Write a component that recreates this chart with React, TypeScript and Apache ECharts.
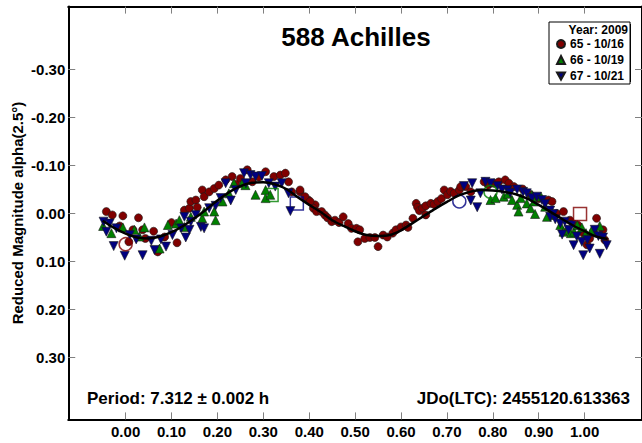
import React, { useEffect, useRef } from "react";
import * as echarts from "echarts";

const FONT = '"Liberation Sans", Arial, sans-serif';

const xTickValues = [0, 0.1, 0.2, 0.3, 0.4, 0.5, 0.6, 0.7, 0.8, 0.9, 1.0];
const yTickValues = [-0.3, -0.2, -0.1, 0, 0.1, 0.2, 0.3];
const seriesNames = ["65 - 10/16", "66 - 10/19", "67 - 10/21"];
const seriesColors = ["#800000", "#008000", "#000080"];

const chartTitle = "588 Achilles";
const yAxisTitle = "Reduced Magnitude alpha(2.5°)";
const legendTitle = "Year: 2009";
const periodText = "Period: 7.312 ± 0.002 h";
const epochText = "JDo(LTC): 2455120.613363";

// session 65 - 10/16 : [phase, reduced magnitude]
const session65 = [
  [-0.042, -0.003], [-0.029, 0.004], [-0.006, 0.006], [0.028, 0.010], [-0.013, 0.027],
  [0.016, 0.035], [0.037, 0.035], [0.061, 0.038], [0.007, 0.060], [0.043, 0.053],
  [0.070, 0.081], [0.112, 0.062], [0.085, 0.050], [0.100, 0.020], [0.128, -0.006],
  [0.139, -0.010], [0.142, -0.024], [0.153, -0.027], [0.156, -0.012], [0.167, -0.048],
  [0.171, -0.034], [0.182, -0.044], [0.193, -0.051], [0.203, -0.058], [0.218, -0.069],
  [0.232, -0.076], [0.240, -0.060], [0.250, -0.072], [0.265, -0.090], [0.276, -0.065],
  [0.290, -0.075], [0.305, -0.086], [0.323, -0.076], [0.337, -0.079], [0.348, -0.083],
  [0.355, -0.065], [0.362, -0.044], [0.380, -0.044], [0.398, -0.027], [0.413, -0.017],
  [0.380, -0.048], [0.391, -0.034], [0.402, -0.024], [0.409, -0.010], [0.416, -0.003],
  [0.427, -0.003], [0.434, 0.004], [0.440, 0.010], [0.449, 0.018], [0.456, 0.015],
  [0.465, 0.020], [0.474, 0.008], [0.485, 0.022], [0.492, 0.032], [0.503, 0.032],
  [0.510, 0.035], [0.506, 0.060], [0.521, 0.053], [0.532, 0.051], [0.543, 0.051],
  [0.550, 0.070], [0.561, 0.046], [0.570, 0.050], [0.582, 0.042], [0.589, 0.035],
  [0.600, 0.029], [0.611, 0.025], [0.615, 0.030], [0.626, 0.011], [0.633, -0.020],
  [0.636, -0.012], [0.640, -0.005], [0.647, -0.010], [0.654, -0.015], [0.654, 0.004],
  [0.665, -0.020], [0.672, -0.018], [0.680, -0.024], [0.688, -0.030], [0.694, -0.048],
  [0.701, -0.038], [0.708, -0.045], [0.716, -0.041], [0.727, -0.048], [0.730, -0.055],
  [0.741, -0.055], [0.752, -0.044], [0.781, -0.065], [0.790, -0.058], [0.802, -0.062],
  [0.813, -0.065], [0.827, -0.069], [0.835, -0.062], [0.846, -0.055], [0.865, -0.050],
  [0.882, -0.038], [0.900, -0.030], [0.921, -0.027], [0.929, -0.024], [0.939, 0.001],
  [0.954, -0.003], [0.968, 0.015], [0.985, 0.025], [0.997, 0.042], [1.005, 0.066],
  [1.011, 0.053], [1.019, 0.039], [1.026, 0.011], [1.040, 0.035], [1.044, 0.056],
];

// session 66 - 10/19
const session66 = [
  [-0.049, 0.027], [-0.031, 0.042], [-0.006, 0.030], [0.019, 0.035], [0.030, 0.049],
  [0.041, 0.030], [0.074, 0.074], [0.092, 0.025], [0.110, 0.022], [0.117, 0.015],
  [0.128, 0.029], [0.142, 0.008], [0.167, 0.011], [0.171, -0.003], [0.193, -0.003],
  [0.196, 0.015], [0.211, -0.024], [0.225, -0.041], [0.236, -0.062], [0.254, -0.062],
  [0.261, -0.058], [0.283, -0.038], [0.305, -0.048], [0.305, -0.031], [0.315, -0.038],
  [0.795, -0.027], [0.806, -0.031], [0.824, -0.034], [0.833, -0.040], [0.842, -0.027],
  [0.853, -0.017], [0.856, -0.003], [0.861, -0.031], [0.874, -0.020], [0.882, -0.010],
  [0.885, -0.038], [0.890, -0.024], [0.892, 0.002], [0.905, -0.034], [0.914, -0.013],
  [0.918, 0.008], [0.932, 0.004], [0.947, 0.025], [0.954, 0.039], [0.961, 0.035],
  [0.970, 0.042], [0.977, 0.039], [0.984, 0.025], [0.994, 0.030], [1.003, 0.042],
  [1.015, 0.037], [1.033, 0.027],
];

// session 67 - 10/21
const session67 = [
  [-0.048, 0.018], [-0.042, 0.039], [-0.035, 0.022], [-0.026, 0.069], [-0.020, 0.032],
  [-0.002, 0.089], [0.009, 0.046], [0.023, 0.055], [0.037, 0.088], [0.056, 0.058],
  [0.063, 0.077], [0.077, 0.055], [0.088, 0.070], [0.102, 0.046], [0.121, 0.032],
  [0.128, 0.008], [0.131, 0.051], [0.139, 0.035], [0.142, 0.018], [0.153, 0.004],
  [0.164, 0.029], [0.171, 0.032], [0.182, -0.010], [0.196, -0.015], [0.207, -0.031],
  [0.218, -0.062], [0.229, -0.026], [0.240, -0.048], [0.258, -0.083], [0.262, -0.062],
  [0.272, -0.079], [0.283, -0.076], [0.297, -0.077], [0.312, -0.062], [0.326, -0.055],
  [0.340, -0.062], [0.355, -0.041], [0.359, -0.004],
  [0.737, -0.056], [0.752, -0.026], [0.755, -0.062], [0.766, -0.012], [0.773, -0.041],
  [0.784, -0.065], [0.795, -0.062], [0.810, -0.056], [0.820, -0.049], [0.832, -0.048],
  [0.838, -0.042], [0.853, -0.049], [0.866, -0.044], [0.874, -0.041], [0.885, -0.031],
  [0.896, -0.034], [0.907, -0.027], [0.914, -0.019], [0.925, -0.005], [0.925, 0.008],
  [0.932, 0.002], [0.936, 0.013], [0.947, 0.022], [0.951, 0.045], [0.957, 0.018],
  [0.965, 0.035], [0.972, 0.025], [0.976, 0.067], [0.983, 0.049], [0.994, 0.060],
  [0.997, 0.088], [1.006, 0.056], [1.011, 0.074], [1.022, 0.035], [1.030, 0.048],
  [1.033, 0.085], [1.040, 0.051], [1.048, 0.067],
];

// open markers: first (circle) and last (square) point of each session
const sessionStarts = [[0.0, 0.065], [0.795, -0.044], [0.727, -0.024]];
const sessionEnds = [[0.99, 0.002], [0.318, -0.0375], [0.373, -0.02]];

// Fourier fit curve
const fitPhase = [
  -0.05, -0.025, 0.0, 0.025, 0.05, 0.075, 0.1, 0.125, 0.15, 0.175, 0.2, 0.225, 0.25,
  0.275, 0.3, 0.325, 0.35, 0.375, 0.4, 0.425, 0.45, 0.475, 0.5, 0.525, 0.55, 0.575,
  0.6, 0.625, 0.65, 0.675, 0.7, 0.725, 0.75, 0.775, 0.8, 0.825, 0.85, 0.875, 0.9,
  0.925, 0.95, 0.975, 1.0, 1.025, 1.05,
];
const fitMag = [
  0.016, 0.031, 0.043, 0.051, 0.053, 0.049, 0.040, 0.027, 0.011, -0.007, -0.026,
  -0.043, -0.056, -0.063, -0.064, -0.060, -0.050, -0.033, -0.017, -0.002, 0.015,
  0.027, 0.038, 0.046, 0.048, 0.046, 0.036, 0.021, 0.006, -0.009, -0.023, -0.036,
  -0.044, -0.048, -0.047, -0.044, -0.039, -0.030, -0.017, -0.003, 0.012, 0.026,
  0.038, 0.049, 0.054,
];

const downTriangle = "path://M0,0L10,0L5,9Z";
const symbols = ["circle", "triangle", downTriangle];
const symbolSizes = [8, 9, 9];

export default function App() {
  const ref = useRef<HTMLDivElement>(null);

  useEffect(() => {
    const chart = echarts.init(ref.current as HTMLDivElement, null, { renderer: "svg" });
    const sessions = [session65, session66, session67];

    const tickLabel = (v: number) => Number(v).toFixed(2);

    const scatterSeries = sessions.map((data, i) => ({
      name: seriesNames[i],
      type: "scatter",
      data,
      symbol: symbols[i],
      symbolSize: symbolSizes[i],
      itemStyle: { color: seriesColors[i], borderColor: "#1a1a1a", borderWidth: 0.6, opacity: 1 },
      z: 3 + i,
      silent: true,
    }));

    const startSeries = sessionStarts.map((p, i) => ({
      name: "start-" + i,
      type: "scatter",
      data: [p],
      symbol: "circle",
      symbolSize: 13,
      itemStyle: { color: "transparent", borderColor: seriesColors[i], borderWidth: 1.5 },
      z: 7,
      silent: true,
    }));
    const endSeries = sessionEnds.map((p, i) => ({
      name: "end-" + i,
      type: "scatter",
      data: [p],
      symbol: "rect",
      symbolSize: 13,
      itemStyle: { color: "transparent", borderColor: seriesColors[i], borderWidth: 1.5 },
      z: 7,
      silent: true,
    }));

    const axisLineStyle = { show: true, onZero: false, lineStyle: { color: "#000", width: 2 } };
    const tickStyle = (values: number[]) => ({
      show: true,
      inside: true,
      length: 7,
      customValues: values,
      lineStyle: { color: "#808080", width: 1 },
    });

    const option: any = {
      animation: false,
      backgroundColor: "#fff",
      textStyle: { fontFamily: FONT },
      grid: { left: 68.25, top: 6.6, width: 577.5, height: 412.8, containLabel: false },
      xAxis: [
        {
          type: "value",
          position: "bottom",
          min: -0.125,
          max: 1.125,
          axisLine: axisLineStyle,
          axisTick: tickStyle(xTickValues),
          axisLabel: {
            show: true,
            customValues: xTickValues,
            formatter: tickLabel,
            margin: 5,
            color: "#000",
            fontFamily: FONT,
            fontWeight: "bold",
            fontSize: 15,
          },
          splitLine: { show: false },
        },
        {
          type: "value",
          position: "top",
          min: -0.125,
          max: 1.125,
          axisLine: axisLineStyle,
          axisTick: tickStyle(xTickValues),
          axisLabel: { show: false },
          splitLine: { show: false },
        },
      ],
      yAxis: [
        {
          type: "value",
          position: "left",
          inverse: true,
          min: -0.43,
          max: 0.43,
          axisLine: axisLineStyle,
          axisTick: tickStyle(yTickValues),
          axisLabel: {
            show: true,
            customValues: yTickValues,
            formatter: tickLabel,
            margin: 3,
            color: "#000",
            fontFamily: FONT,
            fontWeight: "bold",
            fontSize: 15,
          },
          splitLine: { show: false },
        },
        {
          type: "value",
          position: "right",
          inverse: true,
          min: -0.43,
          max: 0.43,
          axisLine: axisLineStyle,
          axisTick: tickStyle(yTickValues),
          axisLabel: { show: false },
          splitLine: { show: false },
        },
      ],
      legend: {
        data: seriesNames,
        orient: "vertical",
        left: 549,
        top: 22,
        padding: [16, 6, 2, 7],
        itemGap: 4,
        itemWidth: 8,
        itemHeight: 8,
        backgroundColor: "#fff",
        borderColor: "#000",
        borderWidth: 1,
        borderRadius: 0,
        selectedMode: false,
        z: 10,
        textStyle: { fontFamily: FONT, fontWeight: "bold", fontSize: 12, color: "#000" },
      },
      graphic: [
        {
          type: "rect",
          z: 9,
          shape: { x: 551, y: 24, width: 80, height: 58 },
          style: { fill: "#000" },
        },
        {
          type: "text",
          z: 11,
          x: 628,
          y: 30,
          style: {
            text: legendTitle,
            font: "bold 12px " + FONT,
            fill: "#000",
            align: "right",
            verticalAlign: "middle",
            textAlign: "right",
            textVerticalAlign: "middle",
          },
        },
        {
          type: "text",
          z: 11,
          x: 356,
          y: 37,
          style: {
            text: chartTitle,
            font: "bold 26px " + FONT,
            fill: "#000",
            align: "center",
            verticalAlign: "middle",
            textAlign: "center",
            textVerticalAlign: "middle",
          },
        },
        {
          type: "text",
          z: 11,
          x: 17,
          y: 213,
          rotation: Math.PI / 2,
          style: {
            text: yAxisTitle,
            font: "bold 15px " + FONT,
            fill: "#000",
            align: "center",
            verticalAlign: "middle",
            textAlign: "center",
            textVerticalAlign: "middle",
          },
        },
        {
          type: "text",
          z: 11,
          x: 87,
          y: 398,
          style: {
            text: periodText,
            font: "bold 17px " + FONT,
            fill: "#000",
            align: "left",
            verticalAlign: "middle",
            textAlign: "left",
            textVerticalAlign: "middle",
          },
        },
        {
          type: "text",
          z: 11,
          x: 630,
          y: 398,
          style: {
            text: epochText,
            font: "bold 17px " + FONT,
            fill: "#000",
            align: "right",
            verticalAlign: "middle",
            textAlign: "right",
            textVerticalAlign: "middle",
          },
        },
      ],
      series: [
        ...scatterSeries,
        {
          name: "fit",
          type: "line",
          data: fitPhase.map((p, i) => [p, fitMag[i]]),
          showSymbol: false,
          symbol: "none",
          smooth: 0.3,
          lineStyle: { color: "#000", width: 2.5 },
          z: 8,
          silent: true,
        },
        ...startSeries,
        ...endSeries,
      ],
    };

    chart.setOption(option);
    return () => chart.dispose();
  }, []);

  return (
    <div
      ref={ref}
      style={{ position: "absolute", left: 0, top: 0, width: 642, height: 443 }}
    />
  );
}
